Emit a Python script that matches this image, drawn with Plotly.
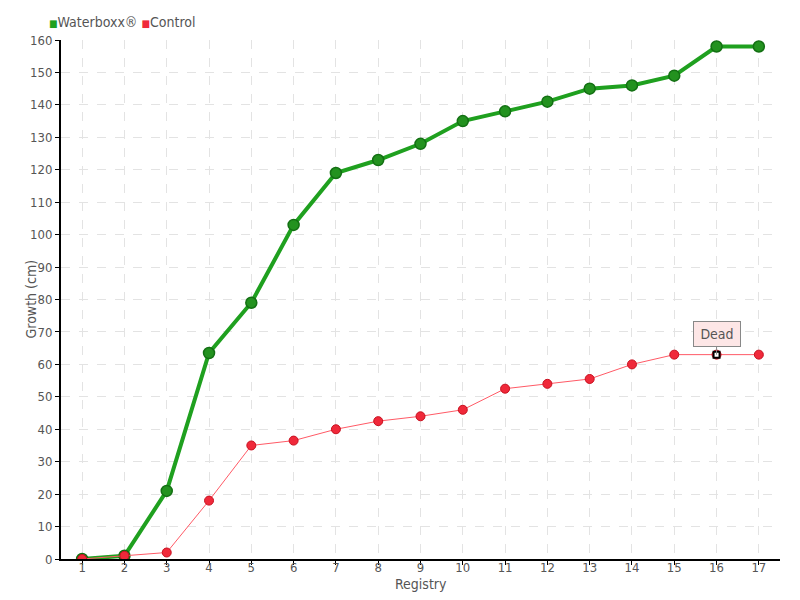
import plotly.graph_objects as go

# Registry numbers and growth values (cm)
registry = list(range(1, 18))
waterboxx = [0, 1, 21, 63.5, 79, 103, 119, 123, 128, 135, 138, 141, 145, 146, 149, 158, 158]
control = [0, 1, 2, 18, 35, 36.5, 40, 42.5, 44, 46, 52.5, 54, 55.5, 60, 63, 63, 63]
dead_index = 15

FONT = "DejaVu Sans Condensed, Liberation Sans Narrow, Arial Narrow, sans-serif"
GREEN = "#1fa01f"
RED = "#f0293a"
TEXT = "#555555"

fig = go.Figure()

# Waterboxx series
fig.add_trace(go.Scatter(
    x=registry, y=waterboxx, mode="lines+markers", name="Waterboxx®",
    line=dict(color=GREEN, width=4),
    marker=dict(size=11, color="#23921f", line=dict(color="#137013", width=1.5)),
))

# Control series
fig.add_trace(go.Scatter(
    x=registry, y=control, mode="lines+markers", name="Control",
    line=dict(color="#ff5a66", width=1),
    marker=dict(size=9, color=RED, line=dict(color="#c8101f", width=1)),
))

# Dead marker
fig.add_trace(go.Scatter(
    x=[registry[dead_index]], y=[control[dead_index]], mode="markers",
    marker=dict(size=6, symbol="square", color="white", line=dict(color="black", width=2)),
    hoverinfo="skip",
))

fig.add_annotation(
    x=registry[dead_index], y=control[dead_index], text="Dead",
    showarrow=True, arrowhead=0, arrowwidth=1, arrowcolor="#888888",
    ax=0, ay=-21, width=38, height=16,
    bgcolor="#fde6e6", bordercolor="#888888", borderwidth=1, borderpad=4,
    font=dict(family=FONT, size=14, color=TEXT),
)

# legend drawn as text so it stays compact
fig.add_annotation(
    xref="paper", yref="paper", x=-0.02, y=1.0, yshift=8,
    xanchor="left", yanchor="bottom", showarrow=False,
    text=(f"<span style='color:{GREEN};font-size:10px'>■</span>Waterboxx® "
          f"<span style='color:{RED};font-size:10px'>■</span>Control"),
    font=dict(family=FONT, size=14, color=TEXT),
)

# axis titles
fig.add_annotation(xref="paper", yref="paper", x=0, y=0.5, xshift=-31,
                   xanchor="center", yanchor="middle",
                   text="Growth (cm)", textangle=-90, showarrow=False,
                   font=dict(family=FONT, size=14, color=TEXT))
fig.add_annotation(xref="paper", yref="paper", x=0.5, y=0, yshift=-25,
                   xanchor="center", yanchor="middle",
                   text="Registry", showarrow=False,
                   font=dict(family=FONT, size=14, color=TEXT))

grid = dict(showgrid=True, gridcolor="#e3e3e3", griddash="dash", gridwidth=1,
            showline=True, linecolor="black", linewidth=2,
            ticks="outside", ticklen=4, tickcolor="black",
            tickfont=dict(family=FONT, size=13, color=TEXT),
            zeroline=False)

fig.update_xaxes(range=[0.5, 17.5], tickmode="array", tickvals=registry,
                 ticklabelstandoff=-9, **grid)
fig.update_yaxes(range=[0, 160], dtick=10, **grid)

fig.update_layout(
    width=800, height=600,
    margin=dict(l=61, r=20, t=40, b=41, autoexpand=False),
    plot_bgcolor="white", paper_bgcolor="white",
    font=dict(family=FONT, color=TEXT),
    showlegend=False,
)

fig.write_html("out.html", config={"displayModeBar": False},
               post_script="document.body.style.margin='0';")
